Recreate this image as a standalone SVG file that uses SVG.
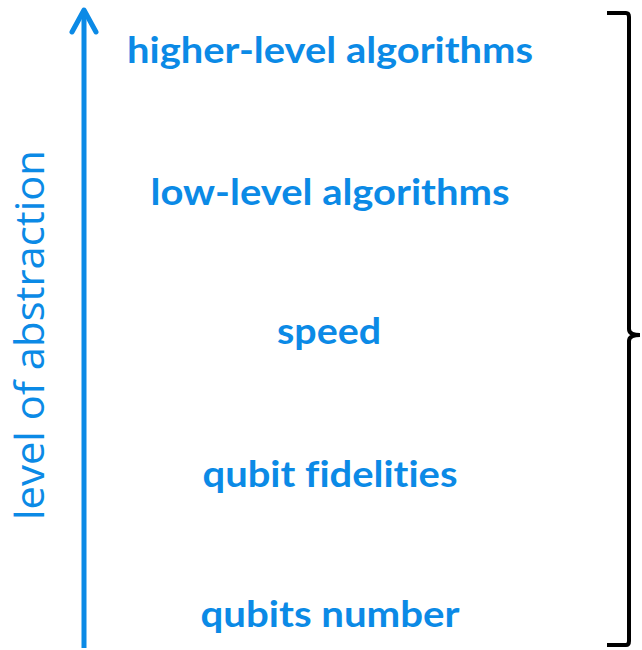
<svg xmlns="http://www.w3.org/2000/svg" width="642" height="650" viewBox="0 0 642 650">
<style>
.t{font-family:Lato,"Open Sans","Liberation Sans",sans-serif;font-weight:bold;font-size:37px;fill:#0b8ae6;text-anchor:middle;font-variant-ligatures:none}
.ax{font-family:"Open Sans",Lato,"Liberation Sans",sans-serif;font-weight:400;font-size:40px;fill:#0b8ae6;text-anchor:middle}
</style>
<rect width="642" height="650" fill="#fff"/>
<g id="connectors">
<path d="M84,648 V10" stroke="#0b8ae6" stroke-width="5" fill="none"/>
<path d="M72,32 L84,10 L96,32" stroke="#0b8ae6" stroke-width="5" fill="none" stroke-linecap="round" stroke-linejoin="round"/>
<path d="M607,13 H626 Q629,13 629,17 V329 Q629,335 640,335 Q629,335 629,341 V641 Q629,645 626,645 H607" stroke="#000" stroke-width="4" fill="none"/>
</g>
<g id="axis-label"><text class="ax" transform="translate(44,335) rotate(-90)" textLength="370" lengthAdjust="spacingAndGlyphs">level of abstraction</text></g>
<g id="n1"><text class="t" x="330" y="63" textLength="406" lengthAdjust="spacingAndGlyphs">higher-level algorithms</text></g>
<g id="n2"><text class="t" x="330" y="205" textLength="359" lengthAdjust="spacingAndGlyphs">low-level algorithms</text></g>
<g id="n3"><text class="t" x="329" y="344" textLength="104" lengthAdjust="spacingAndGlyphs">speed</text></g>
<g id="n4"><text class="t" x="330" y="487" textLength="255" lengthAdjust="spacingAndGlyphs">qubit fidelities</text></g>
<g id="n5"><text class="t" x="330" y="627" textLength="259" lengthAdjust="spacingAndGlyphs">qubits number</text></g>
</svg>
